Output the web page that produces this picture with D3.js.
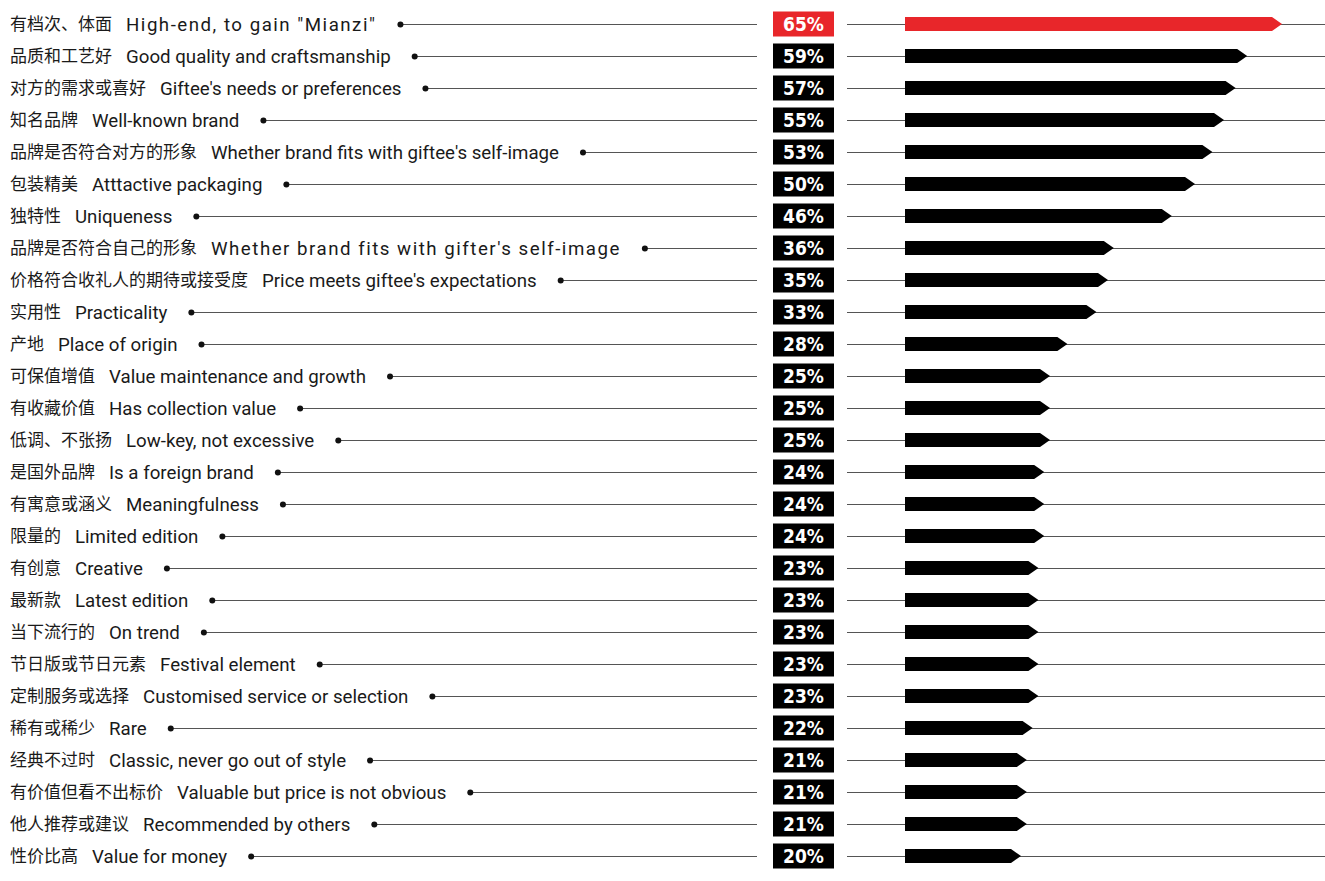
<!DOCTYPE html>
<html>
<head>
	<meta charset="utf-8">
	<title>Gift purchase factors</title>
	<script src="https://d3js.org/d3.v7.min.js"></script>
	<style>
		body { margin: 0; background: #fff; }
	</style>
</head>
<body>
	<script type="text/javascript">
		var width = 1325
		var height = 881

		// data
		var labelsZh = ["有档次、体面", "品质和工艺好", "对方的需求或喜好", "知名品牌", "品牌是否符合对方的形象",
			"包装精美", "独特性", "品牌是否符合自己的形象", "价格符合收礼人的期待或接受度", "实用性", "产地",
			"可保值增值", "有收藏价值", "低调、不张扬", "是国外品牌", "有寓意或涵义", "限量的", "有创意",
			"最新款", "当下流行的", "节日版或节日元素", "定制服务或选择", "稀有或稀少", "经典不过时",
			"有价值但看不出标价", "他人推荐或建议", "性价比高"]
		var labelsEn = ["High-end, to gain \"Mianzi\"", "Good quality and craftsmanship", "Giftee's needs or preferences",
			"Well-known brand", "Whether brand fits with giftee's self-image", "Atttactive packaging", "Uniqueness",
			"Whether brand fits with gifter's self-image", "Price meets giftee's expectations", "Practicality",
			"Place of origin", "Value maintenance and growth", "Has collection value", "Low-key, not excessive",
			"Is a foreign brand", "Meaningfulness", "Limited edition", "Creative", "Latest edition", "On trend",
			"Festival element", "Customised service or selection", "Rare", "Classic, never go out of style",
			"Valuable but price is not obvious", "Recommended by others", "Value for money"]
		var values = [65, 59, 57, 55, 53, 50, 46, 36, 35, 33, 28, 25, 25, 25, 24, 24, 24, 23, 23, 23, 23, 23, 22, 21, 21, 21, 20]

		// these two english labels are set in a wider face in the original
		var wideRows = [0, 7]

		var rows = d3.range(values.length)

		var svg = d3.select("body").append("svg")
			.attr("width", width)
			.attr("height", height)

		var y = d3.scaleBand()
			.domain(rows)
			.range([8, 8 + 32 * rows.length])

		var x = d3.scaleLinear()
			.domain([0, 65])
			.range([905, 1282])

		var tip = 10
		var barH = 14
		var red = "#e8262a"
		var lineCol = "#555"

		var row = svg.selectAll("g.row")
			.data(rows)
			.enter()
			.append("g")
			.attr("class", "row")
			.attr("transform", d => "translate(0," + (y(d) + y.bandwidth() / 2) + ")")

		// labels
		row.append("text")
			.attr("x", 10)
			.attr("y", 6)
			.attr("fill", "#1a1a1a")
			.style("font-family", "'Noto Sans CJK SC'")
			.style("font-size", "17px")
			.text(d => labelsZh[d])

		row.each(function(d) {
			var g = d3.select(this)
			var zw = g.select("text").node().getComputedTextLength()
			var en = g.append("text")
				.attr("x", 10 + zw + 14)
				.attr("y", 6.5)
				.attr("fill", "#1a1a1a")
				.style("font-family", "Roboto")
				.style("font-size", "18.7px")
				.style("letter-spacing", wideRows.includes(d) ? "1.5px" : null)
				.text(labelsEn[d])
			var ex = 10 + zw + 14 + en.node().getComputedTextLength() + 24
			g.append("line")
				.attr("x1", ex).attr("x2", 757)
				.attr("y1", 0.5).attr("y2", 0.5)
				.attr("stroke", lineCol)
			g.append("circle")
				.attr("cx", ex).attr("cy", 0.5)
				.attr("r", 3)
				.attr("fill", "#111")
		})

		// percent boxes
		row.append("rect")
			.attr("x", 773).attr("y", -12.5)
			.attr("width", 61).attr("height", 25)
			.attr("fill", d => d == 0 ? red : "#000")

		row.append("text")
			.attr("x", 803.5)
			.attr("y", 7)
			.attr("text-anchor", "middle")
			.attr("fill", "#fff")
			.style("font-family", "'DejaVu Sans Condensed'")
			.style("font-weight", "bold")
			.style("font-size", "19px")
			.text(d => values[d] + "%")

		// right guide line
		row.append("line")
			.attr("x1", 847).attr("x2", width)
			.attr("y1", 0.5).attr("y2", 0.5)
			.attr("stroke", lineCol)

		// arrow bars
		row.append("path")
			.attr("fill", d => d == 0 ? red : "#000")
			.attr("d", function(d) {
				var x0 = x(0), x1 = x(values[d])
				return "M" + x0 + "," + (-barH / 2) +
					"L" + (x1 - tip) + "," + (-barH / 2) +
					"L" + x1 + "," + 0 +
					"L" + (x1 - tip) + "," + (barH / 2) +
					"L" + x0 + "," + (barH / 2) + "Z"
			})
	</script>
</body>
</html>
